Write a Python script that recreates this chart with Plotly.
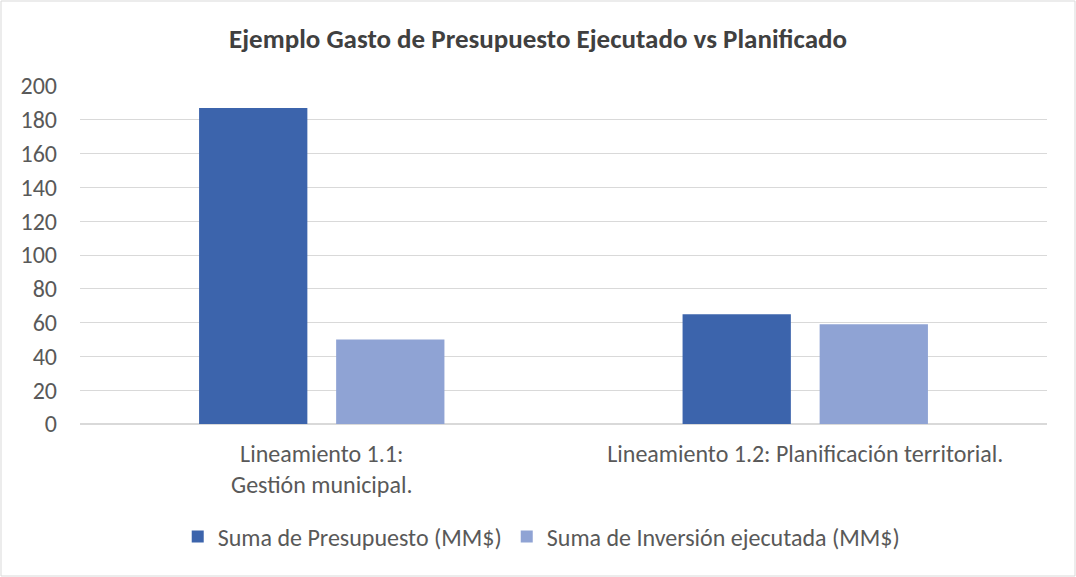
import plotly.graph_objects as go

# Data
categories = ['Lineamiento 1.1:<br>Gestión municipal.', 'Lineamiento 1.2: Planificación territorial.']
presupuesto = [187, 65]
inversion = [50, 59]
series_names = ['Suma de Presupuesto (MM$)', 'Suma de Inversión ejecutada (MM$)']
colors = ['#3c64ac', '#8fa3d4']

W, H = 1076, 577
ml, mr, mt, mb = 80, 29, 86, 153

fig = go.Figure()
for name, vals, color in zip(series_names, [presupuesto, inversion], colors):
    fig.add_trace(go.Bar(x=categories, y=vals, name=name, marker=dict(color=color, line=dict(width=0))))

# light grey frame around the whole chart
pw = W - ml - mr
ph = H - mt - mb
fig.add_shape(type='rect', xref='paper', yref='paper',
              x0=-(ml - 1) / pw, x1=1 + (mr - 1) / pw,
              y0=-(mb - 1) / ph, y1=1 + (mt - 1) / ph,
              line=dict(color='#d9d9d9', width=1), layer='below')

fig.update_layout(
    width=W, height=H,
    margin=dict(l=ml, r=mr, t=mt, b=mb),
    paper_bgcolor='white', plot_bgcolor='white',
    font=dict(family='Carlito, Lato, sans-serif', color='#595959', size=24),
    title=dict(text='<b>Ejemplo Gasto de Presupuesto Ejecutado vs Planificado</b>',
               x=0.5, xref='container', xanchor='center', y=1 - 39 / H, yanchor='middle',
               font=dict(size=27, color='#404040')),
    barmode='group', bargap=0.433, bargroupgap=0.21,
    xaxis=dict(showgrid=False, showline=True, linecolor='#d9d9d9', ticks='',
               ticklabelstandoff=8, tickfont=dict(size=24, color='#595959')),
    yaxis=dict(range=[0, 200], dtick=20, showgrid=True, gridcolor='#d9d9d9',
               zeroline=True, zerolinecolor='#d9d9d9', ticks='', ticklabelstandoff=22,
               tickfont=dict(size=24, color='#595959')),
    legend=dict(orientation='h', xref='container', x=0.503, xanchor='center',
                yref='container', y=1 - 537 / H, yanchor='middle',
                font=dict(size=24, color='#595959'), itemwidth=30, traceorder='normal'),
    showlegend=True,
)

fig.write_html('out.html', config={'displayModeBar': False},
               post_script="document.body.style.margin='0';")
